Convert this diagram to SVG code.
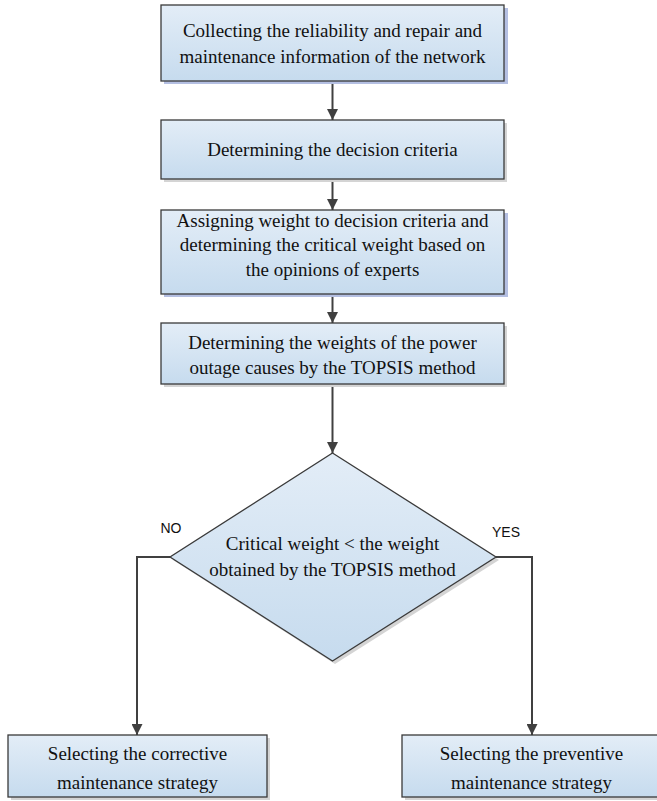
<svg xmlns="http://www.w3.org/2000/svg" width="657" height="801" viewBox="0 0 657 801">
<defs>
<linearGradient id="fill" x1="0" y1="0" x2="0" y2="1">
<stop offset="0" stop-color="#e3edf7"/>
<stop offset="1" stop-color="#c6dbee"/>
</linearGradient>
<marker id="arr" viewBox="0 0 10 10" refX="10" refY="5" markerWidth="11" markerHeight="11" markerUnits="userSpaceOnUse" orient="auto">
<path d="M0,0 L10,5 L0,10 Z" fill="#404040"/>
</marker>
</defs>
<style>
.box{fill:url(#fill);stroke:#3a3a3a;stroke-width:1.3}
.sh{fill:#d4d4d4}
.shb{fill:#b4bfe2}
.c{fill:none;stroke:#404040;stroke-width:2}
</style>
<rect width="657" height="801" fill="#fff"/>
<g id="connectors">
<line class="c" x1="332.5" y1="81" x2="332.5" y2="120" marker-end="url(#arr)"/>
<line class="c" x1="332.5" y1="179" x2="332.5" y2="210" marker-end="url(#arr)"/>
<line class="c" x1="332.5" y1="294" x2="332.5" y2="323" marker-end="url(#arr)"/>
<line class="c" x1="332.5" y1="384" x2="332.5" y2="453" marker-end="url(#arr)"/>
<polyline class="c" points="170,557 137,557 137,735" marker-end="url(#arr)"/>
<polyline class="c" points="496,557 532,557 532,735" marker-end="url(#arr)"/>
</g>
<g font-family="Liberation Serif, Times New Roman, serif" font-size="19" fill="#111" text-anchor="middle">
<g id="n1">
<rect class="shb" x="164" y="8" width="344" height="76"/>
<rect class="box" x="161" y="5" width="343" height="76"/>
<text x="332.5" y="37">Collecting the reliability and repair and</text>
<text x="332.5" y="63">maintenance information of the network</text>
</g>
<g id="n2">
<rect class="sh" x="164" y="123" width="343" height="59"/>
<rect class="box" x="161" y="120" width="343" height="59"/>
<text x="332.5" y="156">Determining the decision criteria</text>
</g>
<g id="n3">
<rect class="shb" x="164" y="213" width="344" height="84"/>
<rect class="box" x="161" y="210" width="343" height="84"/>
<text x="332.5" y="227">Assigning weight to decision criteria and</text>
<text x="332.5" y="251">determining the critical weight based on</text>
<text x="332.5" y="276">the opinions of experts</text>
</g>
<g id="n4">
<rect class="sh" x="164" y="326" width="343" height="61"/>
<rect class="box" x="161" y="323" width="343" height="61"/>
<text x="332.5" y="349">Determining the weights of the power</text>
<text x="332.5" y="374">outage causes by the TOPSIS method</text>
</g>
<g id="n5">
<polygon class="sh" points="335,456 499,560 335,664 173,560"/>
<polygon class="box" points="332.5,453 496,557 332.5,661 170,557"/>
<text x="332.5" y="550">Critical weight &lt; the weight</text>
<text x="332.5" y="576">obtained by the TOPSIS method</text>
</g>
<g id="n6">
<rect class="sh" x="11" y="738" width="259" height="62"/>
<rect class="box" x="8" y="735" width="259" height="62"/>
<text x="137.5" y="760">Selecting the corrective</text>
<text x="137.5" y="789">maintenance strategy</text>
</g>
<g id="n7">
<rect class="sh" x="405" y="738" width="260" height="62"/>
<rect class="box" x="402" y="735" width="260" height="62"/>
<text x="531.5" y="760">Selecting the preventive</text>
<text x="531.5" y="789">maintenance strategy</text>
</g>
</g>
<g id="labels" font-family="Liberation Sans, Arial, sans-serif" font-size="14" fill="#111" text-anchor="middle">
<text x="171" y="533">NO</text>
<text x="506" y="537">YES</text>
</g>
</svg>
